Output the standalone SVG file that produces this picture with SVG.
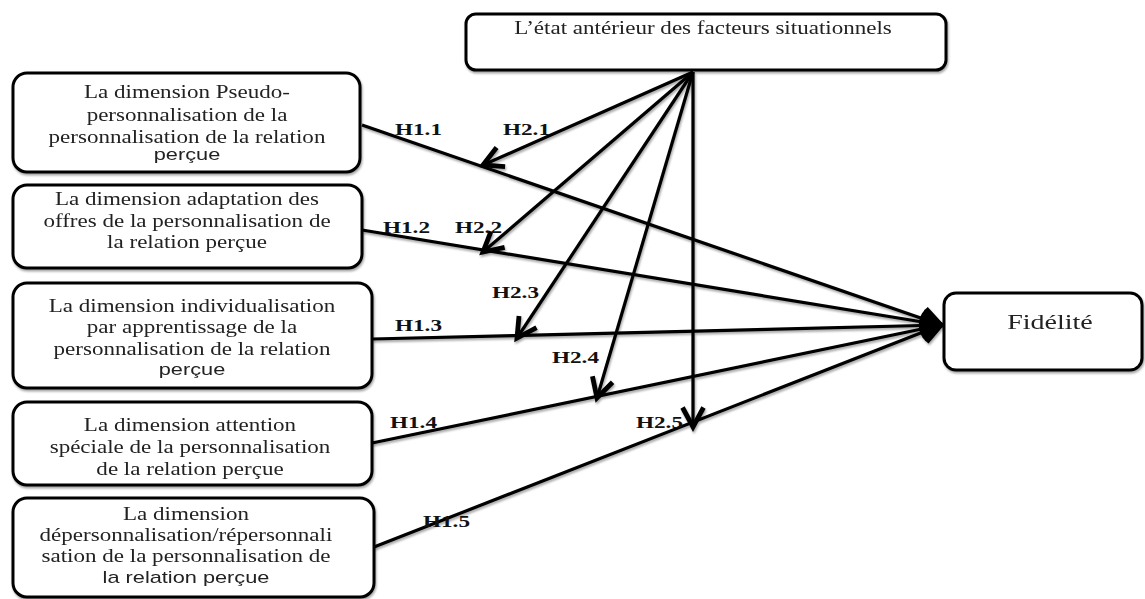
<svg xmlns="http://www.w3.org/2000/svg" width="1145" height="599" viewBox="0 0 1145 599">
<defs>
<style>
.box{fill:#fff;stroke:#000;stroke-width:3}
.t{font-family:"Liberation Serif","Times New Roman",serif;font-size:18px;fill:#222;text-anchor:middle}
.s{font-family:"Liberation Sans",Arial,sans-serif;font-size:17px}
.lb{font-family:"Liberation Serif","Times New Roman",serif;font-size:16px;font-weight:bold;fill:#111}
.ln{fill:none;stroke:#000;stroke-width:3.2}
</style>
<filter id="sh" x="-5%" y="-5%" width="110%" height="120%">
<feDropShadow dx="1" dy="2" stdDeviation="1" flood-color="#000" flood-opacity="0.35"/>
</filter>
<marker id="ar" markerUnits="userSpaceOnUse" markerWidth="30" markerHeight="30" viewBox="-16 -10 20 20" refX="0" refY="0" orient="auto">
<path d="M-13,-7 L0,0 L-13,7" fill="none" stroke="#000" stroke-width="3.2" stroke-linejoin="miter"/>
</marker>
</defs>
<rect width="1145" height="599" fill="#fff"/>

<g id="connectors" filter="url(#sh)">
<line class="ln" x1="362" y1="125" x2="941" y2="325" marker-end="url(#ar)"/>
<line class="ln" x1="362" y1="230" x2="941" y2="325" marker-end="url(#ar)"/>
<line class="ln" x1="372" y1="339" x2="941" y2="325" marker-end="url(#ar)"/>
<line class="ln" x1="372" y1="443" x2="941" y2="325" marker-end="url(#ar)"/>
<line class="ln" x1="374" y1="547" x2="941" y2="325" marker-end="url(#ar)"/>
<line class="ln" x1="693" y1="72" x2="483" y2="165" marker-end="url(#ar)"/>
<line class="ln" x1="693" y1="72" x2="483" y2="252" marker-end="url(#ar)"/>
<line class="ln" x1="693" y1="72" x2="517" y2="338" marker-end="url(#ar)"/>
<line class="ln" x1="693" y1="72" x2="597" y2="398" marker-end="url(#ar)"/>
<line class="ln" x1="693" y1="72" x2="693" y2="427" marker-end="url(#ar)"/>
</g>

<g id="labels">
<text class="lb" transform="matrix(1.45 0 0 1 395 0)" x="0" y="135">H1.1</text>
<text class="lb" transform="matrix(1.45 0 0 1 503 0)" x="0" y="135">H2.1</text>
<text class="lb" transform="matrix(1.45 0 0 1 383 0)" x="0" y="233">H1.2</text>
<text class="lb" transform="matrix(1.45 0 0 1 455 0)" x="0" y="233">H2.2</text>
<text class="lb" transform="matrix(1.45 0 0 1 492 0)" x="0" y="298">H2.3</text>
<text class="lb" transform="matrix(1.45 0 0 1 395 0)" x="0" y="331">H1.3</text>
<text class="lb" transform="matrix(1.45 0 0 1 552 0)" x="0" y="363">H2.4</text>
<text class="lb" transform="matrix(1.45 0 0 1 390 0)" x="0" y="428">H1.4</text>
<text class="lb" transform="matrix(1.45 0 0 1 636 0)" x="0" y="428">H2.5</text>
<text class="lb" transform="matrix(1.45 0 0 1 423 0)" x="0" y="527">H1.5</text>
</g>

<g id="node-top" filter="url(#sh)">
<rect class="box" x="466" y="14" width="480" height="56" rx="10"/>
<text class="t" transform="matrix(1.28 0 0 1 703 0)" x="0" y="34">L’état antérieur des facteurs situationnels</text>
</g>

<g id="node-fidelite" filter="url(#sh)">
<rect class="box" x="944" y="293" width="198" height="77" rx="12"/>
<text class="t" style="font-size:20px" transform="matrix(1.4 0 0 1 1050 0)" x="0" y="329">Fidélité</text>
</g>

<g id="node-h11" filter="url(#sh)">
<rect class="box" x="13" y="73" width="347" height="99" rx="14"/>
<text class="t" transform="matrix(1.28 0 0 1 187 0)"><tspan x="0" y="98">La dimension Pseudo-</tspan><tspan x="0" y="121">personnalisation de la</tspan><tspan x="0" y="143">personnalisation de la relation</tspan><tspan class="s" x="0" y="160">perçue</tspan></text>
</g>

<g id="node-h12" filter="url(#sh)">
<rect class="box" x="13" y="185" width="349" height="83" rx="14"/>
<text class="t" transform="matrix(1.28 0 0 1 187 0)"><tspan x="0" y="205">La dimension adaptation des</tspan><tspan x="0" y="227">offres de la personnalisation de</tspan><tspan x="0" y="248">la relation perçue</tspan></text>
</g>

<g id="node-h13" filter="url(#sh)">
<rect class="box" x="13" y="283" width="359" height="105" rx="14"/>
<text class="t" transform="matrix(1.28 0 0 1 192 0)"><tspan x="0" y="312">La dimension individualisation</tspan><tspan x="0" y="333">par apprentissage de la</tspan><tspan x="0" y="355">personnalisation de la relation</tspan><tspan class="s" x="0" y="375">perçue</tspan></text>
</g>

<g id="node-h14" filter="url(#sh)">
<rect class="box" x="13" y="402" width="359" height="83" rx="14"/>
<text class="t" transform="matrix(1.28 0 0 1 190 0)"><tspan x="0" y="431">La dimension attention</tspan><tspan x="0" y="453">spéciale de la personnalisation</tspan><tspan x="0" y="475">de la relation perçue</tspan></text>
</g>

<g id="node-h15" filter="url(#sh)">
<rect class="box" x="13" y="498" width="361" height="99" rx="14"/>
<text class="t" transform="matrix(1.28 0 0 1 186 0)"><tspan x="0" y="520">La dimension</tspan><tspan x="0" y="541">dépersonnalisation/répersonnali</tspan><tspan x="0" y="562">sation de la personnalisation de</tspan><tspan class="s" x="0" y="583">la relation perçue</tspan></text>
</g>
</svg>
